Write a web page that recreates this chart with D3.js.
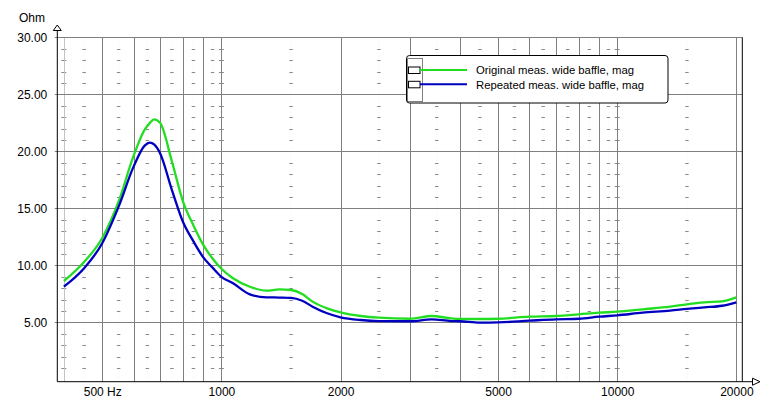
<!DOCTYPE html>
<html>
<head>
<meta charset="utf-8">
<script src="https://cdn.jsdelivr.net/npm/d3@7.9.0/dist/d3.min.js"></script>
<style>
  body { margin: 0; background: #fff; }
  svg { display: block; font-family: "Liberation Sans", Arial, sans-serif; }
</style>
</head>
<body>
<svg id="chart" width="765" height="408"></svg>
<script>
// impedance readings, Hz -> Ohm
const freqs = [400, 450, 500, 550, 600, 640, 660, 676, 700, 750, 800, 850, 900, 950, 1000,
  1070, 1180, 1300, 1400, 1500, 1600, 1700, 1850, 2000, 2250, 2500, 3000, 3400, 3800,
  4000, 4500, 5000, 6000, 7000, 8000, 9000, 10000, 11600, 13600, 15000, 16600, 18400, 20000];
const original = [8.63, 10.3, 12.4, 15.6, 19.6, 21.9, 22.5, 22.8, 22.5, 19.1, 15.6, 13.5, 11.8, 10.6, 9.7,
  8.87, 8.13, 7.78, 7.9, 7.84, 7.49, 6.82, 6.23, 5.88, 5.56, 5.41, 5.32, 5.56, 5.36,
  5.3, 5.3, 5.32, 5.5, 5.56, 5.71, 5.85, 5.94, 6.15, 6.38, 6.59, 6.76, 6.85, 7.2];
const repeated = [8.13, 9.75, 11.94, 15.15, 18.66, 20.5, 20.76, 20.6, 19.83, 16.6, 13.8, 12.1, 10.7, 9.8, 9.0,
  8.43, 7.46, 7.2, 7.18, 7.15, 6.9, 6.38, 5.8, 5.45, 5.21, 5.12, 5.1, 5.27, 5.12,
  5.1, 4.98, 5.0, 5.15, 5.27, 5.32, 5.5, 5.62, 5.85, 6.03, 6.18, 6.32, 6.46, 6.76];

const seriesNames = ["Original meas. wide baffle, mag", "Repeated meas. wide baffle, mag"];
const yTicks = [5, 10, 15, 20, 25, 30];
const yMinor = d3.range(1, 30).filter(v => v % 5 !== 0);
const xGrid = [400, 500, 600, 700, 800, 900, 1000, 2000, 3000, 4000, 5000, 6000, 7000, 8000, 9000, 10000, 20000];
const xDash = [450, 550, 650, 750, 850, 950, 1500, 2500, 3500, 4500, 5500, 6500, 7500, 8500, 9500, 15000];
const xDashCross = [400, 1000, 10000];
const xTicks = [500, 1000, 2000, 5000, 10000, 20000];

const colors = ["#22dd22", "#0000c0"];

const svg = d3.select('#chart');

const plotLeft = 57.3, plotRight = 742.3, plotTop = 37.3, plotBottom = 381.7;

const x = d3.scaleLog().domain([385, 20700]).range([plotLeft, plotRight]);
const y = d3.scaleLinear().domain([-0.2, 30]).range([plotBottom, plotTop]);

// faint dotted columns behind the dashes
svg.append('g').selectAll('line')
    .data(xDash)
    .join('line')
    .attr('x1', d => x(d)).attr('x2', d => x(d))
    .attr('y1', plotTop).attr('y2', plotBottom)
    .attr('stroke', '#f2f2f2')
    .attr('stroke-dasharray', '1,2');

// minor dashes
const dashes = [];
xDash.forEach(f => yMinor.forEach(v => dashes.push({ f, v, w: 3.5 })));
xDashCross.forEach(f => yMinor.forEach(v => dashes.push({ f, v, w: 5 })));
svg.append('g').selectAll('line')
    .data(dashes)
    .join('line')
    .attr('x1', d => x(d.f) - d.w / 2).attr('x2', d => x(d.f) + d.w / 2)
    .attr('y1', d => Math.round(y(d.v)) + 0.5).attr('y2', d => Math.round(y(d.v)) + 0.5)
    .attr('stroke', '#8a8a8a');

// vertical grid
svg.append('g').selectAll('line')
    .data(xGrid)
    .join('line')
    .attr('x1', d => Math.round(x(d)) + 0.5).attr('x2', d => Math.round(x(d)) + 0.5)
    .attr('y1', plotTop).attr('y2', plotBottom)
    .attr('stroke', d => d === 400 ? '#c4c4c4' : '#808080');

// horizontal grid
svg.append('g').selectAll('line')
    .data(yTicks)
    .join('line')
    .attr('x1', plotLeft - 2.5).attr('x2', plotRight)
    .attr('y1', d => Math.round(y(d)) + 0.5).attr('y2', d => Math.round(y(d)) + 0.5)
    .attr('stroke', '#808080');

// curves
const line = d3.line()
    .x(d => x(d[0]))
    .y(d => y(d[1]))
    .curve(d3.curveMonotoneX);

[original, repeated].forEach((vals, i) => {
    svg.append('path')
        .datum(freqs.map((f, j) => [f, vals[j]]))
        .attr('d', line)
        .attr('fill', 'none')
        .attr('stroke', colors[i])
        .attr('stroke-width', 2.3)
        .attr('stroke-linejoin', 'round');
});

// right frame
svg.append('line')
    .attr('x1', plotRight).attr('x2', plotRight)
    .attr('y1', plotTop).attr('y2', plotBottom)
    .attr('stroke', '#000');

// axes (labels only)
const yAxis = d3.axisLeft(y).tickValues(yTicks).tickFormat(d3.format('.2f')).tickSize(0).tickPadding(10);
const gy = svg.append('g').attr('transform', `translate(${plotLeft},0)`).call(yAxis);
gy.select('.domain').remove();

const xAxis = d3.axisBottom(x).tickValues(xTicks)
    .tickFormat(d => d === 500 ? '500 Hz' : String(d))
    .tickSize(0).tickPadding(6);
const gx = svg.append('g').attr('transform', `translate(0,${plotBottom})`).call(xAxis);
gx.select('.domain').remove();

svg.selectAll('.tick text')
    .attr('font-size', 12)
    .attr('font-family', '"Liberation Sans", Arial, sans-serif')
    .attr('fill', '#000');

// axis lines with arrows
svg.append('line')
    .attr('x1', plotLeft).attr('x2', plotLeft)
    .attr('y1', plotBottom).attr('y2', 30)
    .attr('stroke', '#000');
svg.append('line')
    .attr('x1', plotLeft).attr('x2', 752)
    .attr('y1', plotBottom).attr('y2', plotBottom)
    .attr('stroke', '#000');
svg.append('path')
    .attr('d', `M${plotLeft},25 L${plotLeft + 4},30.5 L${plotLeft - 4},30.5 Z`)
    .attr('fill', '#fff').attr('stroke', '#000');
svg.append('path')
    .attr('d', `M760,${plotBottom} L752.5,${plotBottom - 3.5} L752.5,${plotBottom + 3.5} Z`)
    .attr('fill', '#fff').attr('stroke', '#000');

svg.append('text')
    .attr('x', 19).attr('y', 21.5)
    .attr('font-size', 12)
    .text('Ohm');

// legend
const legend = svg.append('g');
legend.append('rect')
    .attr('x', 406.5).attr('y', 55.5)
    .attr('width', 261.5).attr('height', 47.5)
    .attr('rx', 3)
    .attr('fill', '#fff').attr('stroke', '#000');
legend.append('rect')
    .attr('x', 407.5).attr('y', 58.5)
    .attr('width', 15).attr('height', 43)
    .attr('fill', 'none').attr('stroke', '#000')
    .attr('stroke-dasharray', '1,1');

seriesNames.forEach((name, i) => {
    const ly = 70 + i * 14.3;
    legend.append('rect')
        .attr('x', 408.5).attr('y', ly - 3)
        .attr('width', 11.5).attr('height', 6.5)
        .attr('fill', '#fff').attr('stroke', '#000');
    legend.append('line')
        .attr('x1', 420).attr('x2', 467)
        .attr('y1', ly).attr('y2', ly)
        .attr('stroke', colors[i]).attr('stroke-width', 2);
    legend.append('text')
        .attr('x', 476).attr('y', ly + 4.2)
        .attr('font-size', 11.3)
        .text(name);
});
</script>
</body>
</html>
